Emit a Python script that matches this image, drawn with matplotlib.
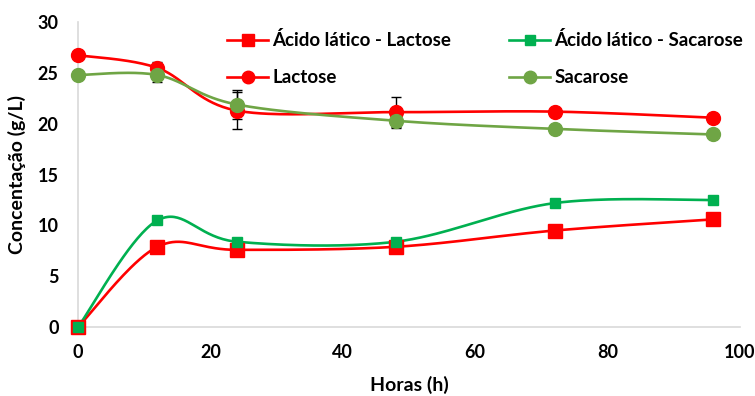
import numpy as np
import matplotlib
matplotlib.use("Agg")
import matplotlib.pyplot as plt

plt.rcParams['font.family'] = ['Lato', 'DejaVu Sans']
plt.rcParams['font.weight'] = 'bold'

horas = [0, 12, 24, 48, 72, 96]
ac_lactose = [0, 7.9, 7.6, 7.9, 9.5, 10.6]
ac_sacarose = [0, 10.5, 8.4, 8.4, 12.2, 12.5]
lactose = [26.75, 25.5, 21.3, 21.15, 21.2, 20.6]
sacarose = [24.8, 24.8, 21.9, 20.3, 19.5, 18.95]
err_lactose = [0, 0.6, 1.8, 1.45, 0.3, 0]
err_sacarose = [0, 0.7, 1.4, 0.7, 0.3, 0]


def smooth(x, y, n=40):
    # Excel-like smoothed line (Bezier through points)
    x = np.asarray(x, float)
    y = np.asarray(y, float)
    px = np.concatenate([[x[0]], x, [x[-1]]])
    py = np.concatenate([[y[0]], y, [y[-1]]])
    xs, ys = [], []
    t = np.linspace(0, 1, n)
    for i in range(1, len(px) - 2):
        p0 = np.array([px[i], py[i]])
        p3 = np.array([px[i + 1], py[i + 1]])
        p1 = p0 + (p3 - np.array([px[i - 1], py[i - 1]])) / 6
        p2 = p3 - (np.array([px[i + 2], py[i + 2]]) - p0) / 6
        b = (np.outer((1 - t) ** 3, p0) + np.outer(3 * (1 - t) ** 2 * t, p1)
             + np.outer(3 * (1 - t) * t ** 2, p2) + np.outer(t ** 3, p3))
        xs.extend(b[:, 0])
        ys.extend(b[:, 1])
    return xs, ys


fig = plt.figure(figsize=(7.55, 3.96), dpi=100)
ax = fig.add_axes([0.1033, 0.174, 0.8767, 0.77])

red = '#FF0000'
green = '#00B050'
olive = '#6FA545'

series = [
    (ac_lactose, None, red, 's', 10, 'Ácido lático - Lactose'),
    (lactose, err_lactose, red, 'o', 10, 'Lactose'),
    (ac_sacarose, None, green, 's', 7.5, 'Ácido lático - Sacarose'),
    (sacarose, err_sacarose, olive, 'o', 10, 'Sacarose'),
]

handles = []
for vals, err, col, mk, ms, lab in series:
    sx, sy = smooth(horas, vals)
    ax.plot(sx, sy, color=col, lw=1.9, zorder=3, clip_on=False)
    if err is not None:
        ax.errorbar(horas, vals, yerr=err, fmt='none', ecolor='black',
                    elinewidth=1, capsize=3.5, capthick=1, zorder=2)
    ax.plot(horas, vals, linestyle='none', marker=mk, ms=ms, color=col,
            zorder=4, clip_on=False)
    h, = ax.plot([], [], color=col, lw=1.9, marker=mk, ms=ms - 1, label=lab)
    handles.append(h)

ax.set_xlim(0, 100)
ax.set_ylim(0, 30)
ax.set_xticks([0, 20, 40, 60, 80, 100])
ax.set_yticks([0, 5, 10, 15, 20, 25, 30])
ax.tick_params(length=0, labelsize=13)
ax.tick_params(axis='y', pad=14)
ax.tick_params(axis='x', pad=12)
for s in ['top', 'right']:
    ax.spines[s].set_visible(False)
for s in ['left', 'bottom']:
    ax.spines[s].set_color('#D9D9D9')
    ax.spines[s].set_linewidth(1.2)

ax.set_xlabel('Horas (h)', fontsize=14, fontweight='bold', labelpad=11)
ax.set_ylabel('Concentação (g/L)', fontsize=14, fontweight='bold', labelpad=8)

ax.legend(handles=handles, ncol=2, loc='upper left', bbox_to_anchor=(0.2, 1.025),
          frameon=False, fontsize=13.5, handlelength=2.2, handletextpad=0.2,
          columnspacing=3.1, labelspacing=1.05)

fig.savefig('out.png', dpi=100)
